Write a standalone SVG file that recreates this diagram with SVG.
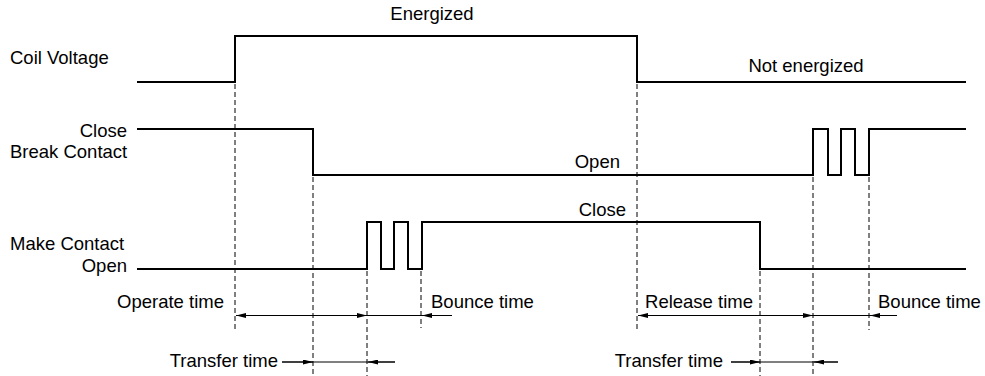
<svg xmlns="http://www.w3.org/2000/svg" width="985" height="376" viewBox="0 0 985 376">
<style>
text{font-family:"Liberation Sans",Arial,Helvetica,sans-serif;font-size:18.5px;fill:#000}
.sig{fill:none;stroke:#000;stroke-width:2;stroke-linejoin:miter}
.dash{fill:none;stroke:#000;stroke-width:1;stroke-dasharray:5 3}
.dim{fill:none;stroke:#000;stroke-width:1}
.r{text-anchor:end}
.m{text-anchor:middle}
</style>
<defs>
<marker id="ah" viewBox="0 0 10 5" refX="10" refY="2.5" markerWidth="10" markerHeight="5" markerUnits="userSpaceOnUse" orient="auto">
<path d="M0,0 L10,2.5 L0,5 Z" fill="#000"/>
</marker>
</defs>
<rect width="985" height="376" fill="#fff"/>
<g id="coil">
<text x="10" y="64">Coil Voltage</text>
<text class="m" x="432" y="20">Energized</text>
<text class="m" x="806" y="72">Not energized</text>
<path class="sig" d="M137,82 H235 V36 H637 V82 H966"/>
</g>
<g id="break">
<text class="r" x="127" y="137">Close</text>
<text x="10" y="158">Break Contact</text>
<text class="r" x="620" y="168">Open</text>
<path class="sig" d="M137,129 H313 V175 H813 V129 H828 V175 H841 V129 H855 V175 H869 V129 H966"/>
</g>
<g id="make">
<text x="10" y="250">Make Contact</text>
<text class="r" x="127" y="272">Open</text>
<text class="r" x="626" y="216">Close</text>
<path class="sig" d="M137,269 H367 V222 H381 V269 H394 V222 H408 V269 H422 V222 H760 V269 H966"/>
</g>
<g id="connectors">
<path class="dash" d="M235,84 V330"/>
<path class="dash" d="M313,177 V376"/>
<path class="dash" d="M367,271 V376"/>
<path class="dash" d="M421,271 V328"/>
<path class="dash" d="M637,84 V330"/>
<path class="dash" d="M760,271 V376"/>
<path class="dash" d="M813,177 V376"/>
<path class="dash" d="M869,177 V330"/>
<path class="dim" d="M236,315.5 H452"/>
<path class="dim" d="M300,315.5 H236" marker-end="url(#ah)"/>
<path class="dim" d="M340,315.5 H367" marker-end="url(#ah)"/>
<path class="dim" d="M450,315.5 H422" marker-end="url(#ah)"/>
<path class="dim" d="M638,315.5 H897"/>
<path class="dim" d="M700,315.5 H638" marker-end="url(#ah)"/>
<path class="dim" d="M780,315.5 H813" marker-end="url(#ah)"/>
<path class="dim" d="M895,315.5 H870" marker-end="url(#ah)"/>
<path class="dim" d="M282,362 H395"/>
<path class="dim" d="M282,362 H313" marker-end="url(#ah)"/>
<path class="dim" d="M395,362 H368" marker-end="url(#ah)"/>
<path class="dim" d="M731,362 H838"/>
<path class="dim" d="M731,362 H760" marker-end="url(#ah)"/>
<path class="dim" d="M838,362 H814" marker-end="url(#ah)"/>
</g>
<g id="labels">
<text class="r" x="224" y="308">Operate time</text>
<text x="431" y="308">Bounce time</text>
<text class="r" x="753" y="308">Release time</text>
<text x="878" y="308">Bounce time</text>
<text class="r" x="278" y="367">Transfer time</text>
<text class="r" x="723" y="367">Transfer time</text>
</g>
</svg>
